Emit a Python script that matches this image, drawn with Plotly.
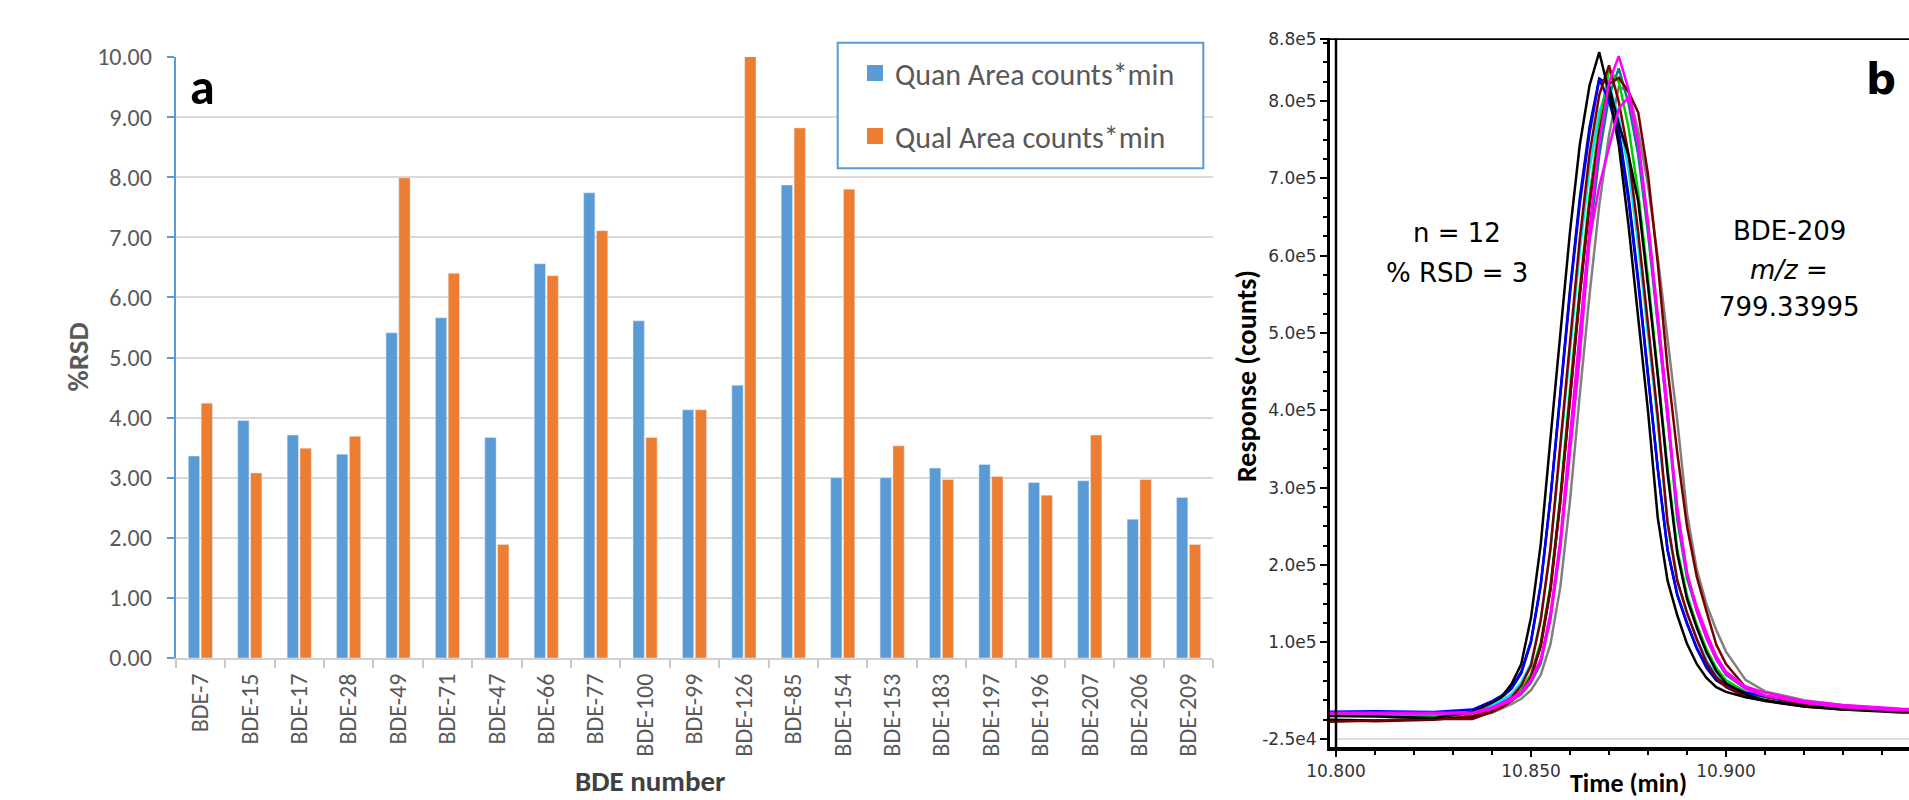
import plotly.graph_objects as go

W, H = 1909, 800

# ---------------- Panel a: %RSD bars ----------------
categories = ["BDE-7", "BDE-15", "BDE-17", "BDE-28", "BDE-49", "BDE-71", "BDE-47",
              "BDE-66", "BDE-77", "BDE-100", "BDE-99", "BDE-126", "BDE-85", "BDE-154",
              "BDE-153", "BDE-183", "BDE-197", "BDE-196", "BDE-207", "BDE-206", "BDE-209"]
quan_rsd = [3.36, 3.95, 3.71, 3.39, 5.41, 5.66, 3.67, 6.56, 7.74, 5.61, 4.13,
            4.54, 7.87, 3.00, 3.00, 3.16, 3.22, 2.92, 2.95, 2.31, 2.67]
qual_rsd = [4.24, 3.08, 3.49, 3.69, 7.99, 6.40, 1.89, 6.36, 7.11, 3.67, 4.13,
            10.01, 8.82, 7.80, 3.53, 2.97, 3.02, 2.71, 3.71, 2.97, 1.89]
rsd_ticks = [0, 1, 2, 3, 4, 5, 6, 7, 8, 9, 10]
series_names = ["Quan Area counts*min", "Qual Area counts*min"]
series_colors = ["#5B9BD5", "#ED7D31"]

# ---------------- Panel b: overlaid chromatograms (n = 12) ----------------
time_min = [10.795, 10.810, 10.825, 10.835, 10.840, 10.8425, 10.845, 10.8475, 10.850,
            10.8525, 10.855, 10.8575, 10.860, 10.8625, 10.865, 10.8675, 10.870, 10.8725,
            10.875, 10.8775, 10.880, 10.8825, 10.885, 10.8875, 10.890, 10.8925, 10.895,
            10.8975, 10.900, 10.905, 10.910, 10.920, 10.930, 10.945, 10.960]
# responses in thousands of counts
resp_navy = [7, 7, 6, 10, 21, 29, 40, 60, 100, 174, 287, 426, 556, 674, 766, 829, 821, 762,
             678, 569, 451, 325, 220, 161, 124, 92, 67, 51, 43, 32, 27, 19, 13.5, 11, 9]
resp_gray = [5, 5, 5, 5, 9, 14, 20, 27, 38, 58, 98, 171, 283, 420, 549, 665, 756, 818,
             813, 761, 691, 598, 492, 387, 267, 194, 149, 116, 88, 51.5, 36.5, 25, 18.5, 13, 11]
resp_teal = [6, 7, 6, 6, 13, 19, 25, 33, 48, 73, 132, 225, 360, 494, 621, 730, 806, 842,
             797, 730, 629, 511, 393, 259, 183, 141, 107, 78, 58, 40, 31, 22, 16.6, 11.8, 10]
resp_cyan = [7, 8, 7, 9.5, 19, 25, 33, 48, 73, 130, 220, 351, 483, 606, 712, 786, 822, 778,
             712, 614, 499, 384, 253, 179, 138, 105, 77, 58, 45.5, 34, 28, 20, 14.7, 11, 9.6]
resp_green = [6, 5, 3, 6, 14, 20, 28, 39, 59, 100, 174, 288, 428, 558, 677, 770, 840, 825,
              766, 681, 571, 453, 326, 220, 161, 123, 91, 67, 51, 36, 29, 20, 14, 10.7, 9]
resp_blue = [10, 11, 10, 13, 24, 31, 42, 62, 102, 175, 286, 423, 551, 667, 758, 828, 800, 754,
             671, 564, 448, 324, 220, 162, 125, 93, 69, 54, 45, 35, 30, 19, 15, 12, 10]
resp_maroon1 = [0, -2, 0, 4.5, 15, 21, 29, 44, 70, 129, 222, 358, 494, 621, 731, 808, 846, 799,
                731, 630, 511, 392, 256, 180, 138, 104, 74, 55, 42, 30, 24, 17, 13, 10.5, 9]
resp_black2 = [0, -1, 1, 2, 10, 17, 25, 35, 55, 96, 169, 282, 420, 549, 666, 758, 820, 770,
               730, 670, 561, 445, 319, 215, 156, 119, 87, 63, 47, 33, 25, 17, 13, 9.4, 7.7]
resp_maroon2 = [-3, -1, 1, 1, 10, 16, 24, 35, 55, 95, 169, 282, 420, 550, 667, 759, 822, 830,
                812, 785, 705, 590, 455, 345, 250, 185, 140, 97, 72, 42, 30, 20, 15, 11, 9]
resp_black1 = [5, 4, 2, 10, 22, 30, 46, 72, 132, 227, 364, 502, 631, 743, 820, 863, 811, 743,
               639, 519, 399, 261, 180, 135, 98, 72, 54, 42, 36, 29, 24.5, 17.6, 14, 11.4, 10]
resp_magenta2 = [8, 8, 8, 8, 14, 19, 25, 34, 50, 76, 130, 222, 345, 470, 620, 690, 740, 790,
                 805, 745, 640, 515, 390, 275, 190, 140, 105, 78, 60, 40, 31, 22, 16, 12, 10]
resp_magenta1 = [9, 9, 9, 9, 16, 22, 28, 36, 52, 78, 138, 232, 369, 507, 635, 747, 824, 858,
                 815, 747, 644, 524, 404, 266, 189, 146, 112, 82, 62, 43, 35, 24, 19, 14, 11.3]

chrom_series = [
    (resp_navy, "#000080"), (resp_gray, "#808080"), (resp_teal, "#008080"),
    (resp_cyan, "#00E0FF"), (resp_green, "#00D000"), (resp_blue, "#0000FF"),
    (resp_maroon1, "#800000"), (resp_black2, "#000000"), (resp_maroon2, "#7A0000"),
    (resp_black1, "#000000"), (resp_magenta2, "#FF00FF"), (resp_magenta1, "#FF00FF"),
]

resp_tickvals = [-25, 100, 200, 300, 400, 500, 600, 700, 800, 880]
resp_ticktext = ["-2.5e4", "1.0e5", "2.0e5", "3.0e5", "4.0e5", "5.0e5", "6.0e5",
                 "7.0e5", "8.0e5", "8.8e5"]
time_tickvals = [10.80, 10.85, 10.90, 10.95]
time_ticktext = ["10.800", "10.850", "10.900", "10.950"]

CAL = "Calibri, Carlito, Lato, sans-serif"
DJ = "DejaVu Sans, Verdana, sans-serif"


def px(x):
    return x / W


def py(y):
    return (H - y) / H


fig = go.Figure()
for vals, name, color in zip([quan_rsd, qual_rsd], series_names, series_colors):
    fig.add_trace(go.Bar(x=categories, y=vals, name=name, marker=dict(color=color),
                         legendgroup=name, showlegend=False, xaxis="x", yaxis="y"))
# legend entries (square swatches) for the two bar series
for name, color in zip(series_names, series_colors):
    fig.add_trace(go.Scatter(x=[None], y=[None], mode="markers", name=name,
                             legendgroup=name,
                             marker=dict(symbol="square", size=16, color=color),
                             xaxis="x", yaxis="y"))

for resp, color in chrom_series:
    fig.add_trace(go.Scatter(x=time_min, y=resp, mode="lines",
                             line=dict(color=color, width=2.5),
                             xaxis="x2", yaxis="y2", showlegend=False,
                             hoverinfo="skip"))

fig.update_layout(
    width=W, height=H, autosize=False,
    margin=dict(l=0, r=0, t=0, b=0, pad=0, autoexpand=False),
    paper_bgcolor="white", plot_bgcolor="white",
    barmode="group", bargap=0.48, bargroupgap=0.12,
    showlegend=True,
    legend=dict(x=px(855), y=py(47), xanchor="left", yanchor="top",
                font=dict(family=CAL, size=30, color="#595959"),
                bgcolor="rgba(0,0,0,0)", borderwidth=0, itemsizing="trace",
                tracegroupgap=21, orientation="v"),
    xaxis=dict(domain=[px(175.7), px(1213.3)], anchor="y", type="category",
               automargin=False,
               showline=True, linecolor="#D0D0D0", linewidth=2,
               ticks="outside", tickson="boundaries", ticklen=8, tickwidth=2,
               tickcolor="#C8C8C8", tickangle=-90, showgrid=False,
               tickfont=dict(family=CAL, size=24, color="#595959"),
               ticklabelstandoff=4),
    yaxis=dict(domain=[py(658), py(57)], anchor="x", range=[0, 10],
               automargin=False,
               tickmode="array", tickvals=rsd_ticks, tickformat=".2f",
               showgrid=True, gridcolor="#D9D9D9", gridwidth=2,
               showline=True, linecolor="#5B9BD5", linewidth=2,
               ticks="outside", ticklen=7, tickwidth=2, tickcolor="#5B9BD5",
               zeroline=False, ticklabelstandoff=10,
               tickfont=dict(family=CAL, size=24, color="#595959")),
    xaxis2=dict(domain=[px(1330), 1.0], anchor="y2", range=[10.79846, 10.94692],
                automargin=False,
                tickmode="array", tickvals=time_tickvals, ticktext=time_ticktext,
                ticks="outside", ticklen=6, tickwidth=2, tickcolor="black",
                showline=True, linewidth=4, linecolor="black",
                showgrid=False, zeroline=False,
                tickfont=dict(family=DJ, size=17, color="#333333"),
                minor=dict(ticks="outside", ticklen=4, tickwidth=1.5,
                           tickcolor="black", tickmode="linear",
                           tick0=10.80, dtick=0.01, showgrid=False)),
    yaxis2=dict(domain=[py(747), py(38.3)], anchor="x2", range=[-35.34, 881],
                automargin=False,
                tickmode="array", tickvals=resp_tickvals, ticktext=resp_ticktext,
                ticks="outside", ticklen=7, tickwidth=2, tickcolor="black",
                showline=True, linewidth=3, linecolor="black",
                showgrid=False, zeroline=False,
                tickfont=dict(family=DJ, size=17, color="#333333"),
                minor=dict(ticks="outside", ticklen=4, tickwidth=1.5,
                           tickcolor="black", tickmode="linear",
                           tick0=0, dtick=25, showgrid=False)),
)

shapes = [
    # legend frame for panel a
    dict(type="rect", xref="paper", yref="paper", x0=px(837.7), x1=px(1203.3),
         y0=py(168.3), y1=py(42.7), line=dict(color="#5B9BD5", width=2),
         fillcolor="white", layer="above"),
    # panel b frame lines
    dict(type="line", xref="x2", yref="y2", x0=10.800, x1=10.800, y0=-35.34, y1=881,
         line=dict(color="black", width=2.5), layer="above"),
    dict(type="line", xref="x2", yref="y2", x0=10.79846, x1=10.94692, y0=880.4, y1=880.4,
         line=dict(color="black", width=2.5), layer="above"),
    dict(type="line", xref="x2", yref="y2", x0=10.800, x1=10.94692, y0=-25, y1=-25,
         line=dict(color="#BBBBBB", width=1), layer="below"),
]


def label(text, x, y, size, family, color="black", angle=0):
    return dict(text=text, x=px(x), y=py(y), xref="paper", yref="paper",
                xanchor="center", yanchor="middle", showarrow=False,
                textangle=angle, font=dict(family=family, size=size, color=color))


annotations = [
    label("<b>a</b>", 202, 86, 50, CAL),
    label("<b>%RSD</b>", 77, 357.5, 29, CAL, "#595959", -90),
    label("<b>BDE number</b>", 650, 781, 29, CAL, "#404040"),
    label("<b>Response (counts)</b>", 1246, 376, 28, CAL, "black", -90),
    label("<b>Time (min)</b>", 1628, 783, 26, CAL),
    label("n = 12", 1457, 233, 26, DJ),
    label("% RSD = 3", 1457, 273, 26, DJ),
    label("BDE-209", 1789, 231, 26, DJ),
    label("<i>m/z</i> =", 1789, 270, 26, DJ),
    label("799.33995", 1789, 307, 26, DJ),
    label("<b>b</b>", 1881, 80, 42, DJ),
]

fig.update_layout(shapes=shapes, annotations=annotations)

fig.write_html("out.html", config={"displayModeBar": False},
               post_script="document.body.style.margin='0';document.body.style.overflow='hidden';")
